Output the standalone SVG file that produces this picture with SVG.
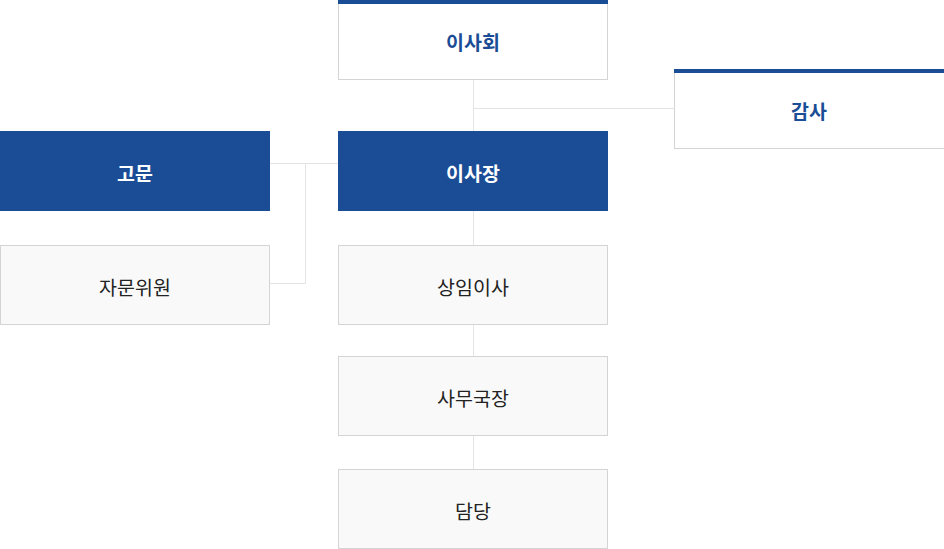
<svg xmlns="http://www.w3.org/2000/svg" width="944" height="549" viewBox="0 0 944 549">
<style>
.line{stroke:#e4e4e4;stroke-width:1;fill:none}
.box{fill:#ffffff;stroke:#d4d4d4;stroke-width:1}
.grey{fill:#f9f9f9;stroke:#d4d4d4;stroke-width:1}
.blue{fill:#1b4d96}
.bar{fill:#1b4d96}
text{font-family:"Noto Sans CJK KR","Noto Sans",sans-serif;font-size:19.5px;text-anchor:middle;dominant-baseline:central}
.tb{fill:#1b4d96;font-weight:bold}
.tw{fill:#ffffff;font-weight:bold}
.tn{fill:#222222}
</style>
<g id="connectors">
<path class="line" d="M473.5 79V131M473.5 108.5H674.5M270 163.5H338M305.5 163.5V283.5H270M473.5 210V245M473.5 324V356M473.5 435V469"/>
</g>
<g id="board">
<rect class="box" x="338.5" y="0.5" width="269" height="79"/>
<rect class="bar" x="338" y="0" width="270" height="4"/>
<text class="tb" x="473" y="41">이사회</text>
</g>
<g id="audit">
<rect class="box" x="674.5" y="69.5" width="270" height="79"/>
<rect class="bar" x="674" y="69" width="270" height="4"/>
<text class="tb" x="809" y="110">감사</text>
</g>
<g id="chairman">
<rect class="blue" x="338" y="131" width="270" height="80"/>
<text class="tw" x="473" y="172">이사장</text>
</g>
<g id="advisor">
<rect class="blue" x="0" y="131" width="270" height="80"/>
<text class="tw" x="135" y="172">고문</text>
</g>
<g id="committee">
<rect class="grey" x="0.5" y="245.5" width="269" height="79"/>
<text class="tn" x="135" y="286">자문위원</text>
</g>
<g id="director">
<rect class="grey" x="338.5" y="245.5" width="269" height="79"/>
<text class="tn" x="473" y="286">상임이사</text>
</g>
<g id="secretary">
<rect class="grey" x="338.5" y="356.5" width="269" height="79"/>
<text class="tn" x="473" y="397">사무국장</text>
</g>
<g id="staff">
<rect class="grey" x="338.5" y="469.5" width="269" height="79"/>
<text class="tn" x="473" y="510">담당</text>
</g>
</svg>
